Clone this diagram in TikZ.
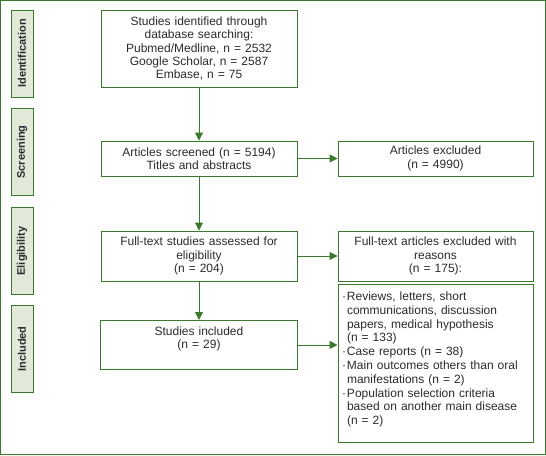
\documentclass[tikz,border=0pt]{standalone}
\usepackage{fontspec}
\setmainfont{Liberation Sans}
\usetikzlibrary{arrows.meta}
\definecolor{prgreen}{HTML}{3A7A2C}
\definecolor{prfill}{HTML}{E3E9D8}
\definecolor{prtext}{HTML}{2A2A30}

\begin{document}
\begin{tikzpicture}[x=1pt,y=-1pt,
  box/.style={draw=prgreen,line width=0.9pt,text=prtext,align=center,inner xsep=3pt,inner ysep=3pt,
    font=\fontsize{12}{13.4}\selectfont},
  stage/.style={draw=prgreen,line width=0.9pt,fill=prfill,rotate=90,minimum width=87pt,minimum height=22pt,
    inner sep=0pt,text=prtext,font=\fontsize{11}{13}\selectfont\bfseries},
  arr/.style={draw=prgreen,line width=0.9pt,-{Triangle[length=8pt,width=8pt]}}]
\useasboundingbox (0,0) rectangle (546,455);
\draw[prgreen,line width=1pt] (0.5,0.5) rectangle (545.5,454.5);

% phases on the left
\node (ident) [stage] at (22,53.5) {Identification};
\node (screen) [stage] at (22,152) {Screening};
\node (elig) [stage] at (22,251) {Eligibility};
\node (incl) [stage] at (22,349) {Included};

% main column
\node (found) [box,text width=190pt,minimum height=77pt] at (199,48.5)
  {Studies identified through\\database searching:\\Pubmed/Medline, n = 2532\\Google Scholar, n = 2587\\Embase, n = 75};
\node (screened) [box,text width=190pt,minimum height=35pt] at (199,158.5)
  {Articles screened (n = 5194)\\Titles and abstracts};
\node (fulltext) [box,text width=190pt,minimum height=50pt] at (199,256)
  {Full-text studies assessed for\\eligibility\\(n = 204)};
\node (included) [box,anchor=north,text width=191pt,text height=12pt,text depth=31pt] at (199,320)
  {Studies included\\(n = 29)};

% exclusions
\node (excl1) [box,text width=189pt,minimum height=35pt] at (435.5,158.5)
  {Articles excluded\\(n = 4990)};
\node (excl2) [box,text width=189pt,minimum height=50pt] at (435.5,256)
  {Full-text articles excluded with\\reasons\\(n = 175):};
\node (reasons) [box,anchor=north,align=left,inner xsep=4pt,text width=187pt,text height=13pt,text depth=139pt,
  font=\fontsize{12}{13.8}\selectfont] at (435.5,284)
  {\makebox[5pt][l]{·}Reviews, letters, short\\
   \hspace*{5pt}communications, discussion\\
   \hspace*{5pt}papers, medical hypothesis\\
   \hspace*{5pt}(n = 133)\\
   \makebox[5pt][l]{·}Case reports (n = 38)\\
   \makebox[5pt][l]{·}Main outcomes others than oral\\
   \hspace*{5pt}manifestations (n = 2)\\
   \makebox[5pt][l]{·}Population selection criteria\\
   \hspace*{5pt}based on another main disease\\
   \hspace*{5pt}(n = 2)};

\draw[arr] (found) -- (screened);
\draw[arr] (screened) -- (fulltext);
\draw[arr] (fulltext) -- (included);
\draw[arr] (screened) -- (excl1);
\draw[arr] (fulltext) -- (excl2);
\draw[arr] (included.east) -- (included.east -| reasons.west);
\end{tikzpicture}
\end{document}
